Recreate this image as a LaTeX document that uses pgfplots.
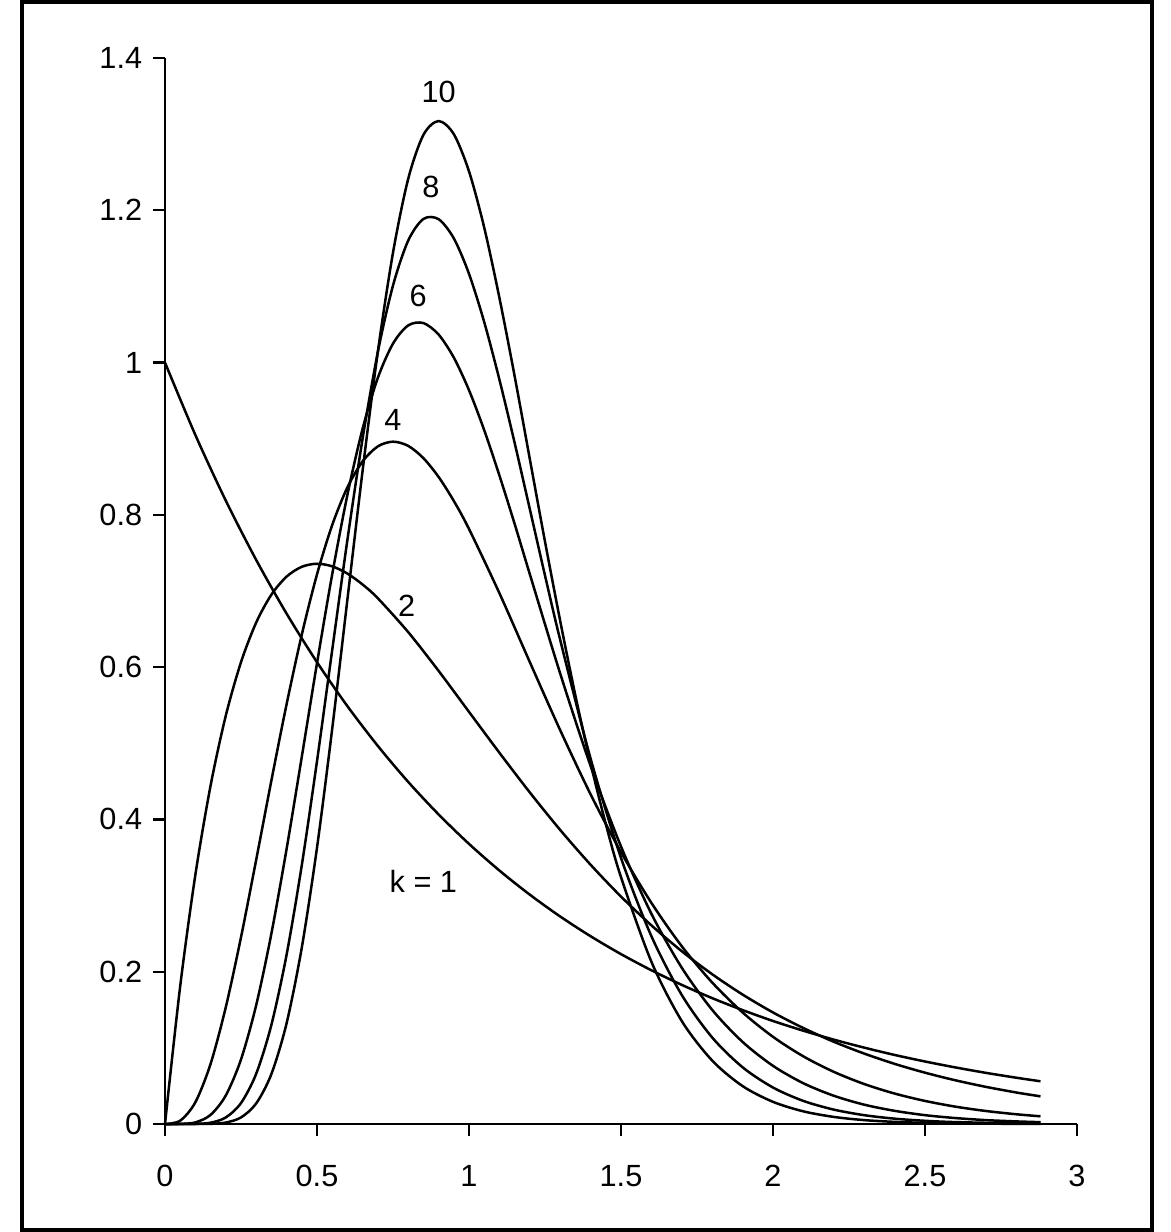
\documentclass[border=0pt]{standalone}
\usepackage{fontspec}
\setmainfont{Liberation Sans}
\usepackage{pgfplots}
\pgfplotsset{compat=1.18}
\begin{document}
\fontsize{9.2}{11}\selectfont
\begin{tikzpicture}
\begin{axis}[
  scale only axis, width=273.6pt, height=319.8pt,
  xmin=0, xmax=3, ymin=0, ymax=1.4,
  axis lines=left, axis line style={-, line width=0.8pt},
  xtick={0,0.5,1,1.5,2,2.5,3},
  ytick={0,0.2,0.4,0.6,0.8,1,1.2,1.4},
  tick align=outside, major tick length=3.6pt,
  tick style={line width=0.7pt, black},
  /pgf/number format/assume math mode=true,
  ticklabel style={font=\fontsize{9.2}{11}\selectfont},
  xticklabel style={yshift=-5.5pt},
  yticklabel style={xshift=0pt},
  clip=false,
  cycle list={{black,no marks}},
  every axis plot/.append style={line width=0.75pt, smooth},
]
% k = 1
\addplot coordinates {(0,1) (0.1,0.9048) (0.2,0.8187) (0.3,0.7408) (0.4,0.6703) (0.5,0.6065) (0.6,0.5488) (0.7,0.4966) (0.8,0.4493) (0.9,0.4066) (1.0,0.3679) (1.1,0.3329) (1.2,0.3012) (1.3,0.2725) (1.4,0.2466) (1.5,0.2231) (1.6,0.2019) (1.7,0.1827) (1.8,0.1653) (1.9,0.1496) (2.0,0.1353) (2.1,0.1225) (2.2,0.1108) (2.3,0.1003) (2.4,0.0907) (2.5,0.0821) (2.6,0.0743) (2.7,0.0672) (2.8,0.0608) (2.88,0.0561)};
% k = 2
\addplot coordinates {(0,0) (0.05,0.1810) (0.1,0.3275) (0.15,0.4445) (0.2,0.5363) (0.25,0.6065) (0.3,0.6586) (0.35,0.6952) (0.4,0.7189) (0.45,0.7318) (0.5,0.7358) (0.55,0.7324) (0.6,0.7229) (0.65,0.7085) (0.7,0.6905) (0.8,0.6460) (0.9,0.5951) (1.0,0.5413) (1.1,0.4876) (1.2,0.4355) (1.3,0.3862) (1.4,0.3405) (1.5,0.2987) (1.6,0.2609) (1.7,0.2269) (1.8,0.1967) (1.9,0.1700) (2.0,0.1465) (2.1,0.1260) (2.2,0.1080) (2.3,0.0925) (2.4,0.0790) (2.5,0.0674) (2.6,0.0574) (2.7,0.0488) (2.8,0.0414) (2.88,0.0363)};
% k = 4
\addplot coordinates {(0,0) (0.05,0.0044) (0.1,0.0286) (0.15,0.0790) (0.2,0.1534) (0.25,0.2452) (0.3,0.3470) (0.35,0.4511) (0.4,0.5513) (0.45,0.6427) (0.5,0.7218) (0.55,0.7866) (0.6,0.8361) (0.65,0.8702) (0.7,0.8899) (0.75,0.8961) (0.8,0.8906) (0.85,0.8745) (0.9,0.8498) (0.95,0.8183) (1.0,0.7815) (1.1,0.6972) (1.2,0.6067) (1.3,0.5172) (1.4,0.4330) (1.5,0.3570) (1.6,0.2904) (1.7,0.2334) (1.8,0.1858) (1.9,0.1465) (2.0,0.1145) (2.1,0.0888) (2.2,0.0685) (2.3,0.0525) (2.4,0.0400) (2.5,0.0303) (2.6,0.0228) (2.7,0.0171) (2.8,0.0128) (2.88,0.0101)};
% k = 6
\addplot coordinates {(0,0) (0.05,0.0001) (0.1,0.0021) (0.15,0.0120) (0.2,0.0375) (0.25,0.0847) (0.3,0.1561) (0.35,0.2501) (0.4,0.3612) (0.45,0.4822) (0.5,0.6051) (0.55,0.7218) (0.6,0.8262) (0.65,0.9131) (0.7,0.9798) (0.75,1.0249) (0.8,1.0488) (0.85,1.0519) (0.9,1.0368) (0.95,1.0066) (1.0,0.9638) (1.05,0.9113) (1.1,0.8518) (1.15,0.7883) (1.2,0.7222) (1.3,0.5916) (1.4,0.4703) (1.5,0.3645) (1.6,0.2761) (1.7,0.2052) (1.8,0.1499) (1.9,0.1078) (2.0,0.0764) (2.1,0.0535) (2.2,0.0371) (2.3,0.0254) (2.4,0.0173) (2.5,0.0116) (2.6,0.0078) (2.7,0.0051) (2.8,0.0034) (2.88,0.0024)};
% k = 8
\addplot coordinates {(0,0) (0.1,0.0002) (0.15,0.0017) (0.2,0.0086) (0.25,0.0275) (0.3,0.0660) (0.35,0.1302) (0.4,0.2223) (0.45,0.3399) (0.5,0.4764) (0.55,0.6223) (0.6,0.7670) (0.65,0.9001) (0.7,1.0135) (0.75,1.1012) (0.8,1.1602) (0.85,1.1886) (0.9,1.1883) (0.95,1.1632) (1.0,1.1166) (1.05,1.0533) (1.1,0.9777) (1.15,0.8948) (1.2,0.8077) (1.25,0.7204) (1.3,0.6358) (1.4,0.4799) (1.5,0.3495) (1.6,0.2467) (1.7,0.1694) (1.8,0.1136) (1.9,0.0745) (2.0,0.0479) (2.1,0.0303) (2.2,0.0189) (2.3,0.0116) (2.4,0.0070) (2.5,0.0042) (2.6,0.0025) (2.8,0.0008) (2.88,0.0005)};
% k = 10
\addplot coordinates {(0,0) (0.1,0.0000) (0.15,0.0002) (0.2,0.0019) (0.25,0.0086) (0.3,0.0270) (0.35,0.0656) (0.4,0.1323) (0.45,0.2317) (0.5,0.3628) (0.55,0.5189) (0.6,0.6886) (0.65,0.8580) (0.7,1.0139) (0.75,1.1443) (0.8,1.2413) (0.85,1.2990) (0.9,1.3172) (0.95,1.3000) (1.0,1.2512) (1.05,1.1774) (1.1,1.0852) (1.15,0.9825) (1.2,0.8735) (1.25,0.7649) (1.3,0.6608) (1.35,0.5627) (1.4,0.4736) (1.45,0.3940) (1.5,0.3242) (1.6,0.2131) (1.7,0.1352) (1.8,0.0833) (1.9,0.0498) (2.0,0.0291) (2.1,0.0166) (2.2,0.0093) (2.3,0.0051) (2.4,0.0028) (2.5,0.0015) (2.6,0.0008) (2.8,0.0002) (2.88,0.0001)};
% curve labels
\node at (axis cs:0.9,1.356) {10};
\node at (axis cs:0.875,1.23) {8};
\node at (axis cs:0.833,1.087) {6};
\node at (axis cs:0.75,0.925) {4};
\node at (axis cs:0.795,0.68) {2};
\node at (axis cs:0.85,0.318) {k = 1};
% outer frame and page extent
\path (rel axis cs:0,0) ++(-49.5pt,-32.4pt) rectangle ++(351pt,369.6pt);
\draw[line width=1.2pt] (rel axis cs:0,0) ++(-42.9pt,-31.8pt) rectangle ++(339pt,368.4pt);
\end{axis}
\end{tikzpicture}
\end{document}
